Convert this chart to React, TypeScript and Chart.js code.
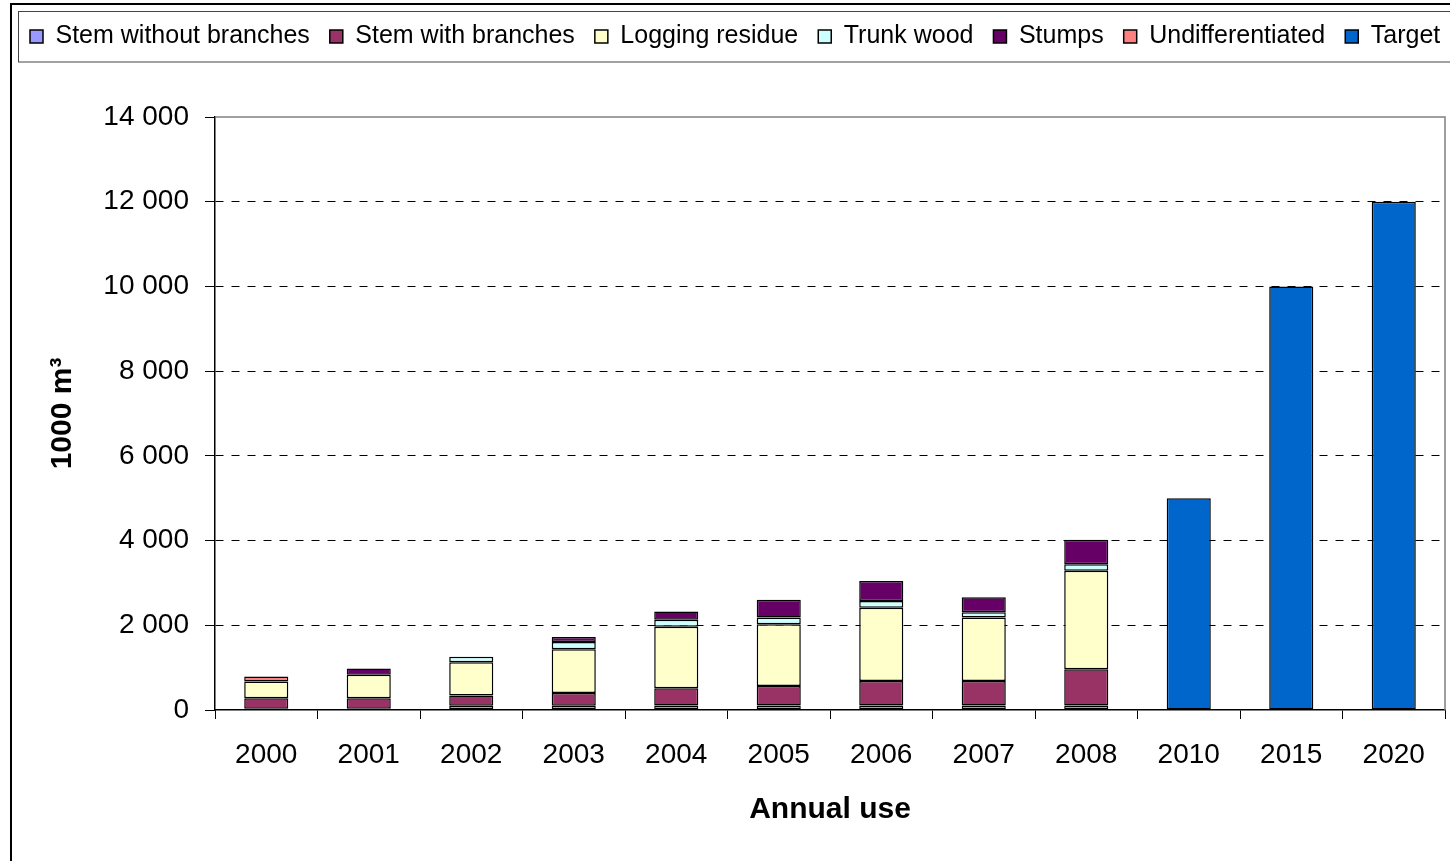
import React, { useEffect, useRef } from "react";
import { Chart, registerables } from "chart.js";

Chart.register(...registerables);

// ---- Data (1000 m³) ----
const categories = ["2000", "2001", "2002", "2003", "2004", "2005", "2006", "2007", "2008", "2010", "2015", "2020"];
const stemWithoutBranches = [30, 30, 100, 100, 105, 105, 105, 105, 105, null, null, null];
const stemWithBranches = [250, 250, 240, 300, 410, 460, 580, 580, 855, null, null, null];
const loggingResidue = [392, 550, 790, 1035, 1450, 1460, 1730, 1500, 2325, null, null, null];
const trunkWood = [null, null, 130, 173, 166, 156, 160, 120, 158, null, null, null];
const stumps = [null, 150, null, 118, 196, 420, 470, 355, 575, null, null, null];
const undifferentiated = [118, null, null, null, null, null, null, null, null, null, null, null];
const target = [null, null, null, null, null, null, null, null, null, 5000, 10000, 12000];

const seriesLabels = [
  "Stem without branches",
  "Stem with branches",
  "Logging residue",
  "Trunk wood",
  "Stumps",
  "Undifferentiated",
  "Target",
];
const seriesColors = ["#9999FF", "#993366", "#FFFFCC", "#CCFFFF", "#660066", "#FF8080", "#0066CC"];
const yTicks = [0, 2000, 4000, 6000, 8000, 10000, 12000, 14000];

const FONT = "'Liberation Sans', Arial, Helvetica, sans-serif";

const formatThousands = (v: number) => String(v).replace(/\B(?=(\d{3})+(?!\d))/g, " ");

const legendLayoutPlugin = {
  id: "legendLayout",
  beforeLayout(chart: any) {
    const lg: any = chart.legend;
    if (lg && !lg.__patched) {
      const orig = lg.fit;
      lg.fit = function () {
        this.maxWidth = 3000;
        orig.call(this);
        this.height = 113;
      };
      lg.__patched = true;
    }
  },
  afterLayout(chart: any) {
    const lg: any = chart.legend;
    if (lg) {
      lg.right = lg.left + 3000;
      lg.width = 3000;
    }
  },
};

const framePlugin = {
  id: "frames",
  afterDraw(chart: any) {
    const { ctx, chartArea } = chart;
    ctx.save();
    // outer chart frame
    ctx.strokeStyle = "#000";
    ctx.lineWidth = 2;
    ctx.beginPath();
    ctx.moveTo(11, 900);
    ctx.lineTo(11, 4);
    ctx.lineTo(1500, 4);
    ctx.stroke();
    // legend frame
    ctx.strokeStyle = "#444";
    ctx.lineWidth = 1;
    ctx.strokeRect(18.5, 11.5, 1500, 50.5);
    // plot area border (top, right)
    ctx.strokeStyle = "#808080";
    ctx.lineWidth = 1.5;
    ctx.beginPath();
    ctx.moveTo(chartArea.left, chartArea.top);
    ctx.lineTo(chartArea.right, chartArea.top);
    ctx.lineTo(chartArea.right, chartArea.bottom);
    ctx.stroke();
    ctx.restore();
  },
};

export default function App() {
  const ref = useRef<HTMLCanvasElement>(null);

  useEffect(() => {
    document.body.style.margin = "0";
    document.body.style.overflow = "hidden";
    const seriesData = [
      stemWithoutBranches,
      stemWithBranches,
      loggingResidue,
      trunkWood,
      stumps,
      undifferentiated,
      target,
    ];
    const chart = new Chart(ref.current as HTMLCanvasElement, {
      type: "bar",
      data: {
        labels: categories,
        datasets: seriesData.map((d, i) => ({
          label: seriesLabels[i],
          data: d as any,
          backgroundColor: seriesColors[i],
          borderColor: "#000",
          borderWidth: 1.5,
          borderSkipped: false,
          stack: "s",
          categoryPercentage: 1,
          barPercentage: 0.43,
        })),
      },
      options: {
        responsive: false,
        animation: false,
        layout: { padding: { top: 4, left: 10, right: 5, bottom: 0 } },
        plugins: {
          legend: {
            display: true,
            position: "top",
            align: "start",
            labels: {
              font: { family: FONT, size: 25 },
              color: "#000",
              boxWidth: 13,
              boxHeight: 13,
              padding: 20,
            },
          },
          tooltip: { enabled: false },
          title: { display: false },
        },
        scales: {
          x: {
            stacked: true,
            afterFit(scale: any) {
              scale.height = 151;
            },
            grid: {
              display: true,
              drawOnChartArea: false,
              drawTicks: true,
              tickLength: 9,
              offset: true,
              color: "#000",
              tickColor: "#000",
            },
            border: { display: true, color: "#000", width: 1.5 },
            ticks: {
              font: { family: FONT, size: 28 },
              color: "#000",
              padding: 19,
              maxRotation: 0,
              autoSkip: false,
            },
            title: {
              display: true,
              text: "Annual use",
              font: { family: FONT, size: 30, weight: "bold" },
              color: "#000",
              padding: { top: 0, bottom: 33 },
            },
          },
          y: {
            stacked: true,
            min: 0,
            max: 14000,
            afterFit(scale: any) {
              scale.width = 205;
            },
            afterBuildTicks(scale: any) {
              scale.ticks = yTicks.map((v) => ({ value: v }));
            },
            grid: {
              color: (c: any) =>
                c.tick && (c.tick.value === 0 || c.tick.value === 14000) ? "rgba(0,0,0,0)" : "#000",
              tickColor: "#000",
              tickBorderDash: [],
              tickLength: 10,
              lineWidth: 1,
            },
            border: { display: true, color: "#000", width: 1.5, dash: [8, 8] },
            ticks: {
              font: { family: FONT, size: 28 },
              color: "#000",
              padding: 16,
              callback: (v: any) => formatThousands(Number(v)),
            },
            title: {
              display: true,
              text: "1000 m³",
              font: { family: FONT, size: 30, weight: "bold" },
              color: "#000",
              padding: { top: 35, bottom: 0 },
            },
          },
        },
      },
      plugins: [legendLayoutPlugin, framePlugin],
    } as any);
    return () => chart.destroy();
  }, []);

  return (
    <div style={{ width: 1450, height: 861, position: "relative", overflow: "hidden" }}>
      <canvas ref={ref} width={1450} height={861} style={{ display: "block", width: 1450, height: 861 }} />
    </div>
  );
}
